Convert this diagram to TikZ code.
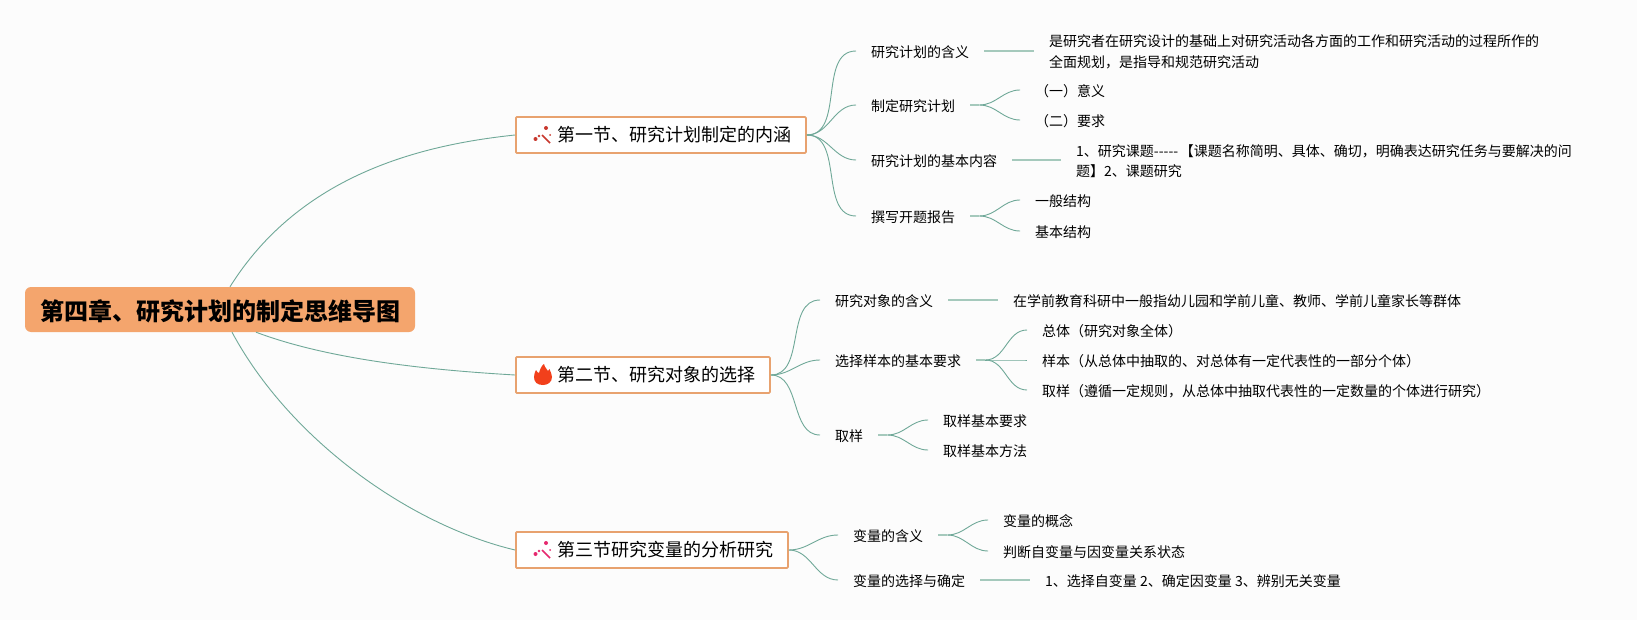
\documentclass[tikz,border=0pt]{standalone}
\usepackage{fontspec}
\setmainfont{Noto Sans CJK SC}
\newcommand{\linew}{0.9pt}
\newcommand{\iconpad}{\hspace*{27pt}}
\definecolor{pagebg}{HTML}{FCFCFC}
\definecolor{branchc}{HTML}{6FA898}
\definecolor{leafc}{HTML}{A5C9BC}
\definecolor{rootc}{HTML}{F4A56D}
\definecolor{boxc}{HTML}{E8A26F}
\definecolor{wandred}{HTML}{C8382E}
\definecolor{wandpink}{HTML}{E6296F}
\definecolor{flamec}{HTML}{F2401B}
\tikzset{
    rootnode/.style={fill=rootc, rounded corners=6pt, minimum width=390pt, minimum height=45pt,
        inner sep=0pt, text height=24pt, text depth=2pt, font=\fontsize{24}{28}\selectfont\bfseries},
    secnode/.style={draw=boxc, line width=1.8pt, fill=white, rounded corners=1pt, anchor=west,
        minimum height=36pt, inner xsep=14.5pt, inner ysep=0pt, font=\fontsize{18}{22}\selectfont},
    topic/.style={anchor=west, xshift=-1pt, inner xsep=15pt, inner ysep=1pt, align=left,
        font=\fontsize{14}{20.5}\selectfont},
    branch/.style={draw=branchc, line width=\linew},
    curved/.style={branch, out=0, in=180},
    leafline/.style={draw=leafc, line width=1.6pt},
}
\newcommand{\drawwand}[3]{
    \draw[#3, line width=1.6pt] (#1+8,#2+9) -- (#1+16,#2+17);
    \fill[#3] (#1+12,#2+2) circle (2pt);
    \fill[#3] (#1+16,#2+9) circle (1pt);
    \fill[#3] (#1+1.5,#2+13) circle (2pt);
    \fill[#3] (#1+5,#2+10) circle (1.3pt);
}
\begin{document}
\begin{tikzpicture}[x=1pt,y=-1pt]
        \path[fill=pagebg, use as bounding box] (0,0) rectangle (1637,620);

        \node[rootnode] (root) at (220,309.5) {第四章、研究计划的制定思维导图};

        % first section
        \node[secnode] (sec1) at (515,135) {\iconpad 第一节、研究计划制定的内涵};
        \node[topic] (a1) at (857,52) {研究计划的含义};
        \node[topic] (a2) at (857,106) {制定研究计划};
        \node[topic] (a3) at (857,161) {研究计划的基本内容};
        \node[topic] (a4) at (857,217) {撰写开题报告};
        \node[topic] (a1x) at (1035,52) {是研究者在研究设计的基础上对研究活动各方面的工作和研究活动的过程所作的\\全面规划，是指导和规范研究活动};
        \node[topic] (a2x) at (1021,91) {（一）意义};
        \node[topic] (a2y) at (1021,121) {（二）要求};
        \node[topic] (a3x) at (1062,161) {1、研究课题{-}{-}{-}{-}{-} \kern-1.5pt【课题名称简明、具体、确切，明确表达研究任务与要解决的问\\题】2、课题研究};
        \node[topic] (a4x) at (1021,201) {一般结构};
        \node[topic] (a4y) at (1021,232) {基本结构};

        % second section
        \node[secnode] (sec2) at (515,375) {\iconpad 第二节、研究对象的选择};
        \node[topic] (b1) at (821,301) {研究对象的含义};
        \node[topic] (b2) at (821,361) {选择样本的基本要求};
        \node[topic] (b3) at (821,436) {取样};
        \node[topic] (b1x) at (999,301) {在学前教育科研中一般指幼儿园和学前儿童、教师、学前儿童家长等群体};
        \node[topic] (b2x) at (1028,331) {总体（研究对象全体）};
        \node[topic] (b2y) at (1028,361) {样本（从总体中抽取的、对总体有一定代表性的一部分个体）};
        \node[topic] (b2z) at (1028,391) {取样（遵循一定规则，从总体中抽取代表性的一定数量的个体进行研究）};
        \node[topic] (b3x) at (929,421) {取样基本要求};
        \node[topic] (b3y) at (929,451) {取样基本方法};

        % third section
        \node[secnode] (sec3) at (515,550) {\iconpad 第三节研究变量的分析研究};
        \node[topic] (c1) at (839,536) {变量的含义};
        \node[topic] (c2) at (839,581) {变量的选择与确定};
        \node[topic] (c1x) at (989,521) {变量的概念};
        \node[topic] (c1y) at (989,552) {判断自变量与因变量关系状态};
        \node[topic] (c2x) at (1031,581) {1、选择自变量 2、确定因变量 3、辨别无关变量};

        \draw[branch] ([xshift=10pt]root.north) .. controls (300,175) and (420,145) .. (sec1.west);
        \draw[branch] ([xshift=36pt]root.south) .. controls (330,360) and (430,370) .. (sec2.west);
        \draw[branch] ([xshift=12pt]root.south) .. controls (290,440) and (410,525) .. (sec3.west);

        \foreach \from/\to in {sec1/a1,sec1/a2,sec1/a3,sec1/a4,
            sec2/b1,sec2/b2,sec2/b3,sec3/c1,sec3/c2}
            \draw[curved] (\from.east) to ([yshift=1pt]\to.west);
        % forks start with a short stub
        \foreach \from in {a2,a4,b2,b3,c1}
            \draw[leafline] ([yshift=1pt]\from.east) -- ([yshift=1pt,xshift=9pt]\from.east);
        \foreach \from/\to in {a2/a2x,a2/a2y,a4/a4x,a4/a4y,b2/b2x,b2/b2y,b2/b2z,b3/b3x,b3/b3y,c1/c1x,c1/c1y}
            \draw[curved] ([yshift=1pt,xshift=9pt]\from.east) to ([yshift=1pt]\to.west);
        \foreach \from/\to in {a1/a1x,a3/a3x,b1/b1x,c2/c2x}
            \draw[leafline] ([yshift=1pt]\from.east) -- ([yshift=1pt]\to.west);

        % icons
        \drawwand{534}{126}{wandred}
        \drawwand{534}{541}{wandpink}
        \fill[flamec] (544,364) .. controls (545,368) and (547,369) .. (548,371)
            .. controls (548.5,370.5) and (549,370) .. (549.5,369)
            .. controls (551,373) and (552,375) .. (552,377)
            .. controls (552,382) and (548,385) .. (543,385)
            .. controls (537,385) and (534,382) .. (534,377)
            .. controls (534,374) and (535,372) .. (536,370)
            .. controls (537,372) and (538,373) .. (539,373)
            .. controls (540,370) and (541,366) .. (544,364) -- cycle;
    \end{tikzpicture}
\end{document}
